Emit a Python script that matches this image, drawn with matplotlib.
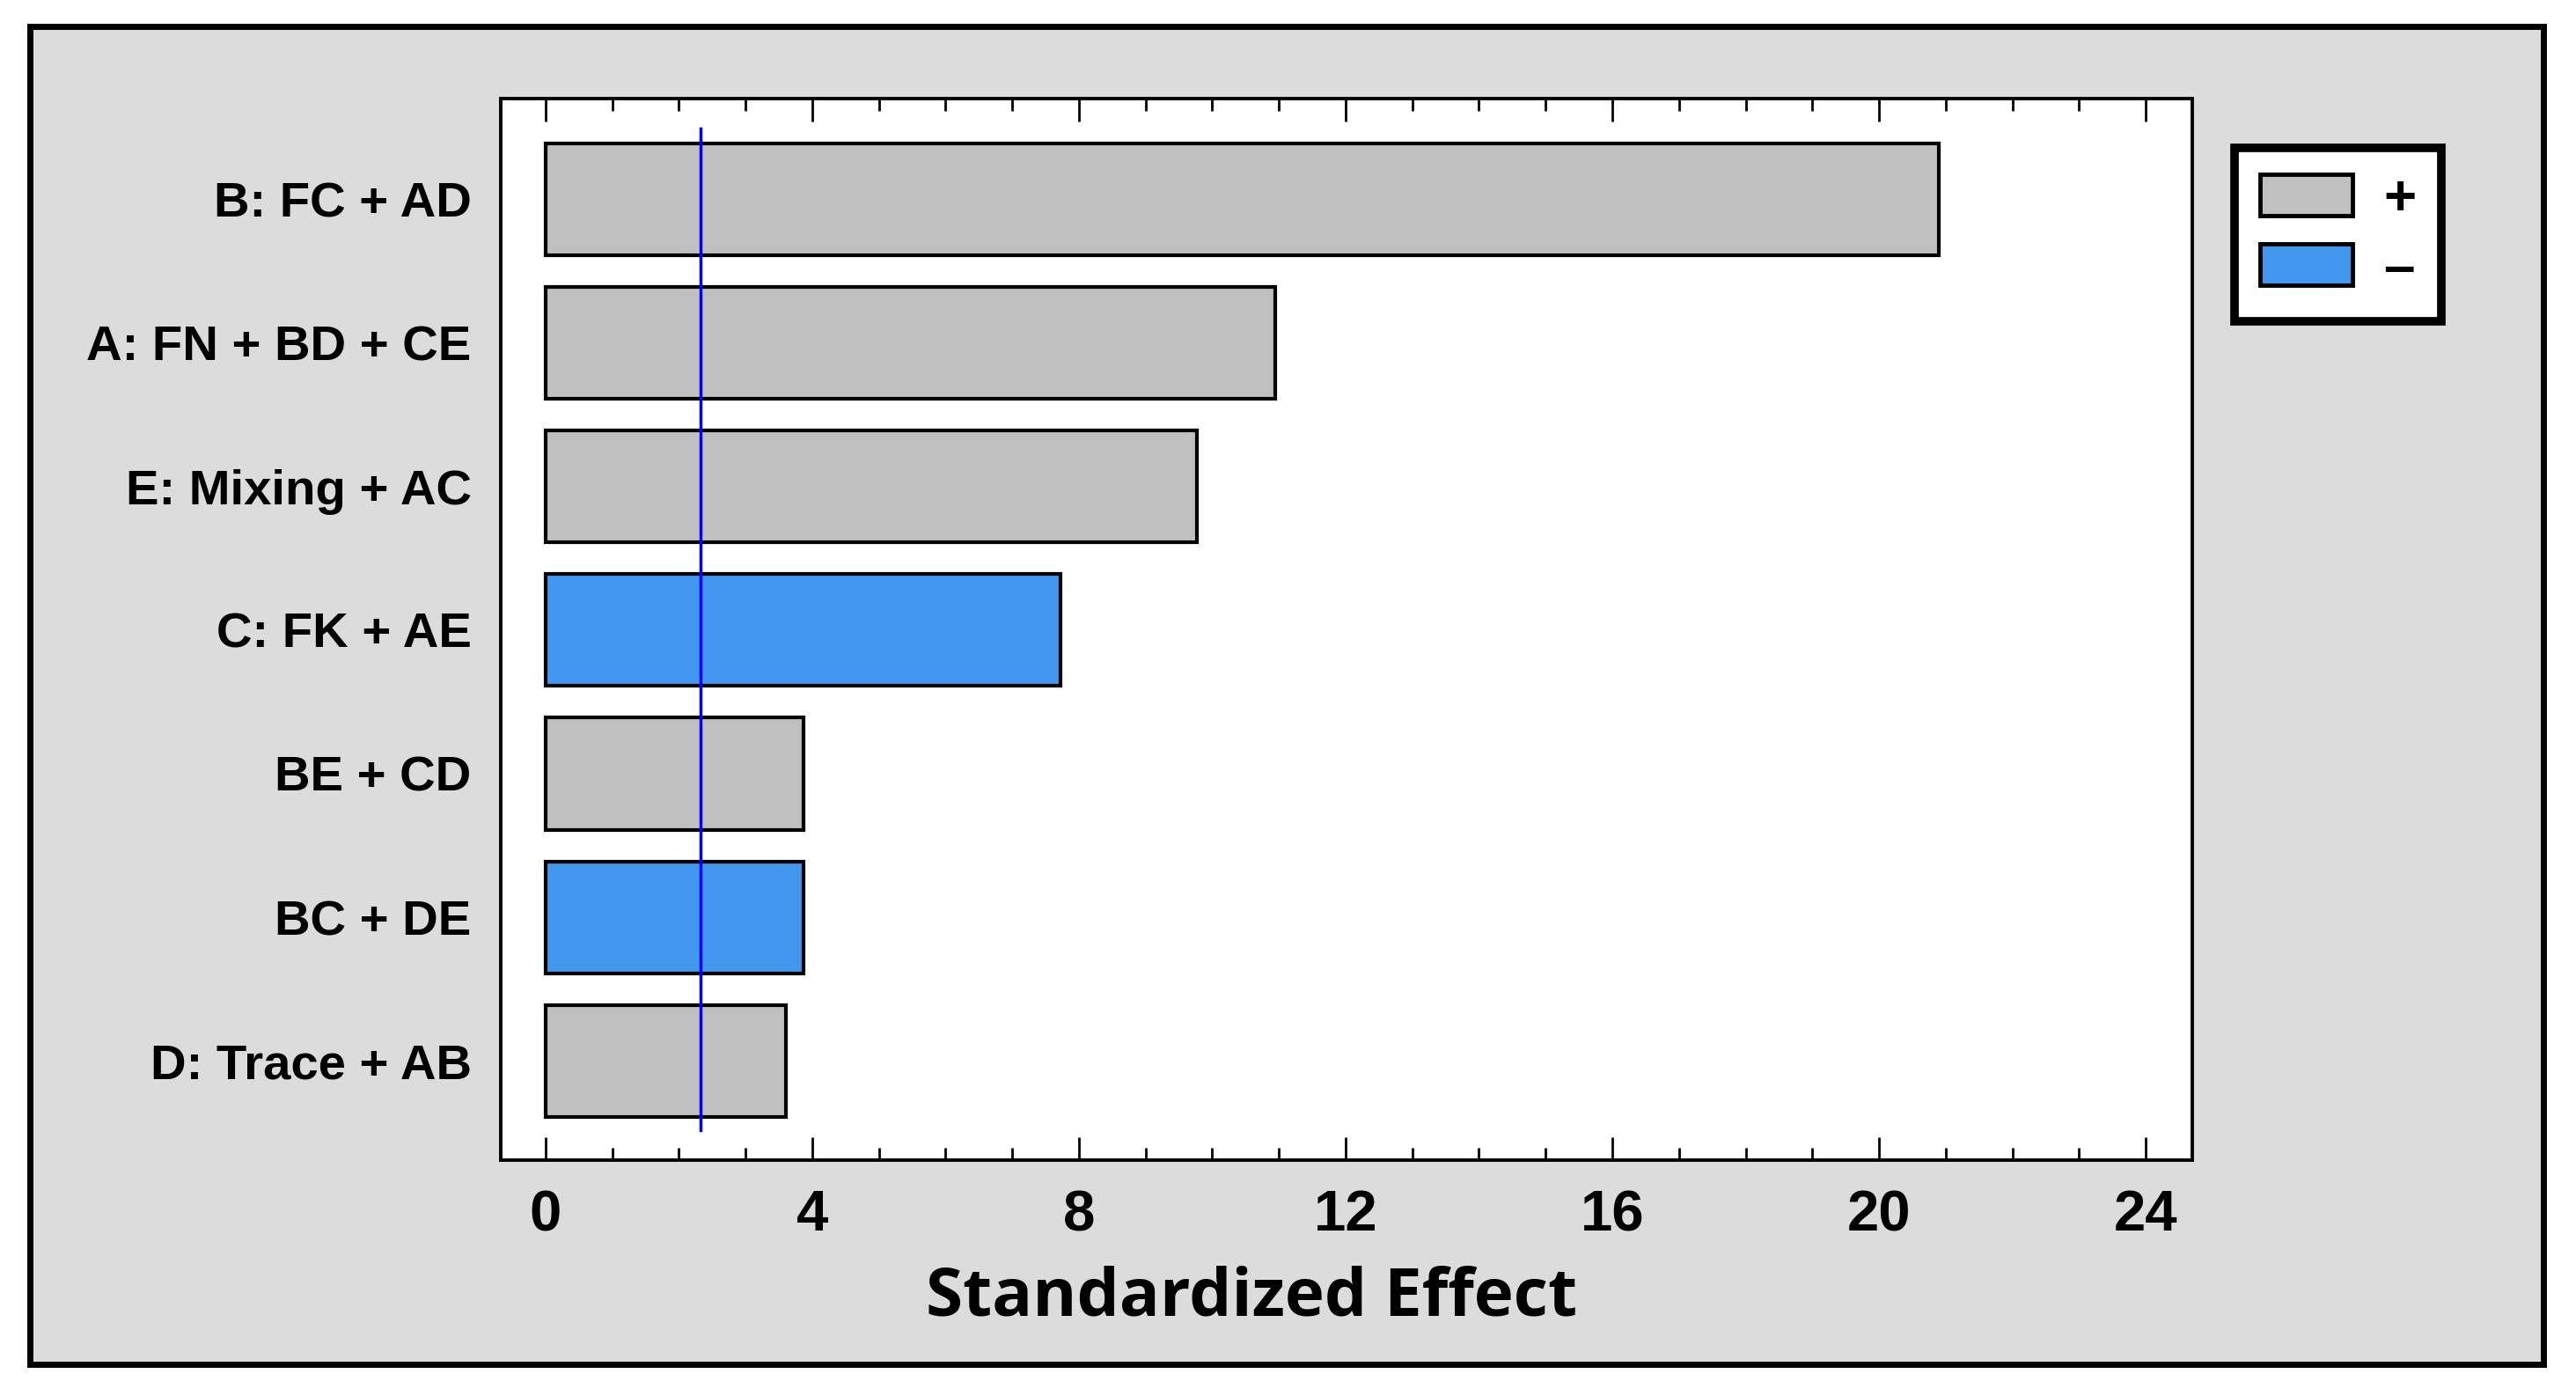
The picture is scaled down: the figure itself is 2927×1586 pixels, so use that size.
import matplotlib
matplotlib.use('Agg')
import matplotlib.pyplot as plt
from matplotlib.patches import Rectangle, Patch
from matplotlib.ticker import MultipleLocator

# Pareto chart of standardized effects
terms = ["B: FC + AD", "A: FN + BD + CE", "E: Mixing + AC", "C: FK + AE",
         "BE + CD", "BC + DE", "D: Trace + AB"]
effects = [20.9, 10.95, 9.77, 7.72, 3.87, 3.87, 3.6]
signs = ["+", "+", "+", "-", "+", "-", "+"]
t_crit = 2.32
xticks = [0, 4, 8, 12, 16, 20, 24]

pos_color = '#c0c0c0'
neg_color = '#4196ed'


def main():
    plt.rcParams['font.family'] = ['Liberation Sans', 'DejaVu Sans']
    fig = plt.figure(figsize=(29.27, 15.86), dpi=100, facecolor='white')

    # grey panel with black frame
    fig.patches.append(Rectangle((0.0116, 0.0227), 0.9758, 0.9584,
                                 transform=fig.transFigure, facecolor='#dcdcdc',
                                 edgecolor='black', linewidth=5, zorder=-10))

    ax = fig.add_axes([0.1944, 0.169, 0.6567, 0.7604])
    ax.set_zorder(1)
    ax.set_facecolor('white')

    colors = [pos_color if s == "+" else neg_color for s in signs]
    y = list(range(len(terms)))
    ax.barh(y, effects, height=0.78, color=colors, edgecolor='black',
            linewidth=3, zorder=2)
    ax.axvline(t_crit, ymin=0.028, ymax=0.972, color='#0000ff', linewidth=2.5, zorder=3)

    ax.set_xlim(-0.67, 24.7)
    ax.set_ylim(6.69, -0.70)
    ax.set_yticks(y)
    ax.set_yticklabels(terms, fontsize=40.5, fontweight='bold')
    ax.set_xticks(xticks)
    ax.set_xticklabels([str(v) for v in xticks], fontsize=47, fontweight='bold')
    ax.xaxis.set_minor_locator(MultipleLocator(1))
    ax.tick_params(axis='y', length=0, pad=24)
    ax.tick_params(axis='x', which='major', direction='in', length=19, width=2,
                   top=True, pad=24)
    ax.tick_params(axis='x', which='minor', direction='in', length=10, width=2,
                   top=True)
    for sp in ax.spines.values():
        sp.set_linewidth(2.8)
        sp.set_color('black')

    fig.text(0.486, 0.070, "Standardized Effect", ha='center', va='center',
             fontsize=55, fontweight='bold', family=['Open Sans', 'DejaVu Sans'])

    handles = [Patch(facecolor=pos_color, edgecolor='black', linewidth=3.5),
               Patch(facecolor=neg_color, edgecolor='black', linewidth=3.5)]
    leg = fig.legend(handles, ["+", "\u2013"], loc='upper left',
                     bbox_to_anchor=(0.8675, 0.894), borderaxespad=0,
                     prop={'weight': 'bold', 'size': 46},
                     handlelength=1.65, handleheight=0.75, handletextpad=0.55,
                     labelspacing=0.3, borderpad=0.45, fancybox=False,
                     framealpha=1, edgecolor='black')
    leg.get_frame().set_linewidth(7)

    fig.savefig('out.png', dpi=100, facecolor='white')


if __name__ == "__main__":
    main()
